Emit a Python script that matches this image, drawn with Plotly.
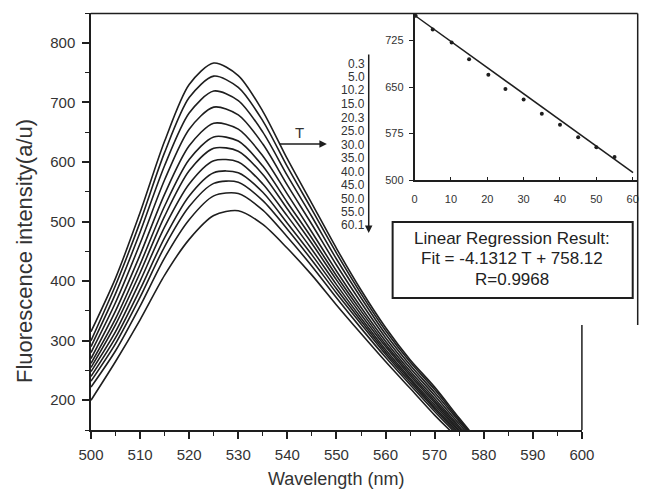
import plotly.graph_objects as go

# ---------------- data ----------------
wavelength = [500, 505, 510, 515, 520, 525, 530, 535, 540, 545, 550, 555, 560, 565, 570, 575, 580]

I01 = [315, 405, 515, 635, 730, 766, 745, 685, 605, 530, 455, 385, 322, 268, 222, 170, 120]
I02 = [300, 393, 499, 616, 708, 744, 725, 669, 592, 520, 447, 379, 317, 264, 218, 167, 118]
I03 = [290, 379, 482, 594, 682, 719, 703, 650, 577, 508, 437, 372, 311, 259, 213, 164, 116]
I04 = [280, 364, 463, 570, 655, 692, 679, 630, 561, 495, 427, 364, 305, 254, 208, 160, 114]
I05 = [270, 350, 444, 546, 627, 665, 655, 610, 546, 482, 417, 356, 299, 249, 203, 156, 112]
I06 = [262, 337, 428, 526, 604, 642, 635, 593, 532, 472, 409, 350, 294, 245, 199, 153, 110]
I07 = [255, 327, 414, 509, 585, 623, 618, 579, 521, 463, 402, 344, 290, 241, 196, 150, 109]
I08 = [248, 315, 400, 491, 563, 602, 600, 563, 509, 453, 394, 338, 285, 237, 192, 148, 107]
I09 = [240, 305, 386, 473, 543, 582, 582, 549, 497, 444, 387, 333, 281, 234, 188, 145, 106]
I10 = [232, 295, 373, 458, 525, 564, 566, 535, 487, 435, 380, 328, 277, 230, 185, 142, 104]
I11 = [222, 283, 358, 439, 503, 543, 547, 519, 474, 425, 372, 321, 272, 226, 181, 139, 103]
I12 = [200, 265, 335, 410, 470, 510, 518, 495, 455, 410, 360, 312, 265, 220, 175, 135, 100]
spectra = [I01, I02, I03, I04, I05, I06, I07, I08, I09, I10, I11, I12]

temp_labels = ["0.3", "5.0", "10.2", "15.0", "20.3", "25.0", "30.0",
               "35.0", "40.0", "45.0", "50.0", "55.0", "60.1"]

inset_T = [0.3, 5.0, 10.2, 15.0, 20.3, 25.0, 30.0, 35.0, 40.0, 45.0, 50.0, 55.0]
inset_I = [765, 743, 722, 695, 670, 647, 630, 607, 589, 569, 553, 537]
fit_T = [0.0, 60.1]
fit_I = [766, 512]

x_ticks = [500, 510, 520, 530, 540, 550, 560, 570, 580, 590, 600]
y_ticks = [200, 300, 400, 500, 600, 700, 800]
inset_x_ticks = [0, 10, 20, 30, 40, 50, 60]
inset_y_ticks = [500, 575, 650, 725]

box_lines = ["Linear Regression Result:", "Fit = -4.1312 T + 758.12", "R=0.9968"]

# ---------------- layout helpers ----------------
W, H = 652, 493
SX = 0.9805            # horizontal scale observed between page and picture


def XT(x):
    """target picture x -> page pixel x"""
    return x / SX


L = round(XT(89))
R = 1
T, B = 13, 63
PW, PH = W - L - R, H - T - B


def PX(x):
    return (XT(x) - L) / PW


def PY(y):
    return (H - B - y) / PH


INK = "#1e1e1e"
TXT = "#333333"
FONT = "Liberation Sans, Arial, sans-serif"

fig = go.Figure()

for ys in spectra:
    fig.add_trace(go.Scatter(
        x=wavelength, y=ys, mode="lines",
        line=dict(color=INK, width=1.6, shape="spline", smoothing=0.8),
        showlegend=False, hoverinfo="skip"))

fig.add_trace(go.Scatter(
    x=fit_T, y=fit_I, mode="lines", xaxis="x2", yaxis="y2",
    line=dict(color=INK, width=1.5), showlegend=False))
fig.add_trace(go.Scatter(
    x=inset_T, y=inset_I, mode="markers", xaxis="x2", yaxis="y2",
    marker=dict(color=INK, size=4), showlegend=False))

fig.update_layout(
    width=W, height=H,
    margin=dict(l=L, r=R, t=T, b=B),
    paper_bgcolor="white", plot_bgcolor="white",
    font=dict(family=FONT, color=TXT),
    xaxis=dict(
        domain=[0, PX(582)], range=[500, 600],
        tickvals=x_ticks, ticks="outside", ticklen=7, tickwidth=1.5, tickcolor=INK,
        minor=dict(dtick=5, tick0=500, ticks="outside", ticklen=4, tickcolor=INK, tickwidth=1.2),
        showline=True, linecolor=INK, linewidth=1.5,
        showgrid=False, zeroline=False,
        tickfont=dict(size=15, color=TXT), ticklabelstandoff=3,
    ),
    yaxis=dict(
        domain=[0, 1], range=[150, 850],
        tickvals=y_ticks, ticks="outside", ticklen=7, tickwidth=1.5, tickcolor=INK,
        minor=dict(dtick=50, tick0=150, ticks="outside", ticklen=4, tickcolor=INK, tickwidth=1.2),
        showline=True, linecolor=INK, linewidth=1.5,
        showgrid=False, zeroline=False,
        tickfont=dict(size=15, color=TXT), ticklabelstandoff=4,
    ),
    xaxis2=dict(
        anchor="y2", domain=[PX(414), min(1.0, PX(638))], range=[0, 61.37],
        tickvals=inset_x_ticks, ticks="inside", ticklen=3, tickcolor=INK,
        showline=True, linecolor=INK, linewidth=1.5,
        showgrid=False, zeroline=False,
        tickfont=dict(size=11, color=TXT), ticklabelstandoff=8,
    ),
    yaxis2=dict(
        anchor="x2", domain=[PY(180), PY(14)], range=[500, 768],
        tickvals=inset_y_ticks, ticks="outside", ticklen=4, tickcolor=INK,
        showline=True, linecolor=INK, linewidth=1.5,
        showgrid=False, zeroline=False,
        tickfont=dict(size=11, color=TXT), ticklabelstandoff=3,
    ),
)

shapes = [
    dict(type="line", xref="paper", yref="paper", x0=PX(89), x1=PX(638), y0=PY(13.5), y1=PY(13.5),
         line=dict(color=INK, width=1.5)),
    dict(type="line", xref="paper", yref="paper", x0=PX(638), x1=PX(638), y0=PY(13.5), y1=PY(325),
         line=dict(color=INK, width=1.5)),
    dict(type="line", xref="paper", yref="paper", x0=PX(582), x1=PX(582), y0=PY(325), y1=PY(430),
         line=dict(color=INK, width=1.5)),
    dict(type="rect", xref="paper", yref="paper", x0=PX(392), x1=PX(633), y0=PY(298), y1=PY(222),
         line=dict(color=INK, width=2), fillcolor="white"),
]
fig.update_layout(shapes=shapes)

ann = []
ann.append(dict(xref="paper", yref="paper", x=PX(335), y=PY(479), text="Wavelength (nm)",
                xanchor="center", yanchor="middle", showarrow=False,
                font=dict(size=18, color=TXT)))
ann.append(dict(xref="paper", yref="paper", x=PX(22), y=PY(251), text="Fluorescence intensity(a/u)",
                xanchor="center", yanchor="middle", showarrow=False, textangle=-90,
                font=dict(size=22, color=TXT)))
ann.append(dict(xref="paper", yref="paper", x=PX(326), y=PY(144), ax=-round(48 / SX), ay=0,
                showarrow=True, arrowhead=2, arrowsize=1, arrowwidth=1.5, arrowcolor=INK, text=""))
ann.append(dict(xref="paper", yref="paper", x=PX(299), y=PY(122), text="T", showarrow=False,
                font=dict(size=15, color=TXT)))
ann.append(dict(xref="paper", yref="paper", x=PX(368), y=PY(233), ax=0, ay=-180,
                showarrow=True, arrowhead=2, arrowsize=1, arrowwidth=1.5, arrowcolor=INK, text=""))
for i, lab in enumerate(temp_labels):
    ann.append(dict(xref="paper", yref="paper", x=PX(366), y=PY(63 + 13.5 * i), text=lab,
                    xanchor="right", yanchor="middle", showarrow=False, height=13,
                    font=dict(size=12, color=TXT)))
for i, line in enumerate(box_lines):
    ann.append(dict(xref="paper", yref="paper", x=PX(512), y=PY(238 + 20.5 * i), text=line,
                    xanchor="center", yanchor="middle", showarrow=False,
                    font=dict(size=17, color="#222222")))
fig.update_layout(annotations=ann)

fig.write_html(
    "out.html",
    config={"displayModeBar": False},
    post_script=("document.documentElement.style.margin='0px';"
                 "document.body.style.margin='0px';"
                 "document.documentElement.style.overflow='hidden';"
                 "document.body.style.overflow='hidden';"),
)
